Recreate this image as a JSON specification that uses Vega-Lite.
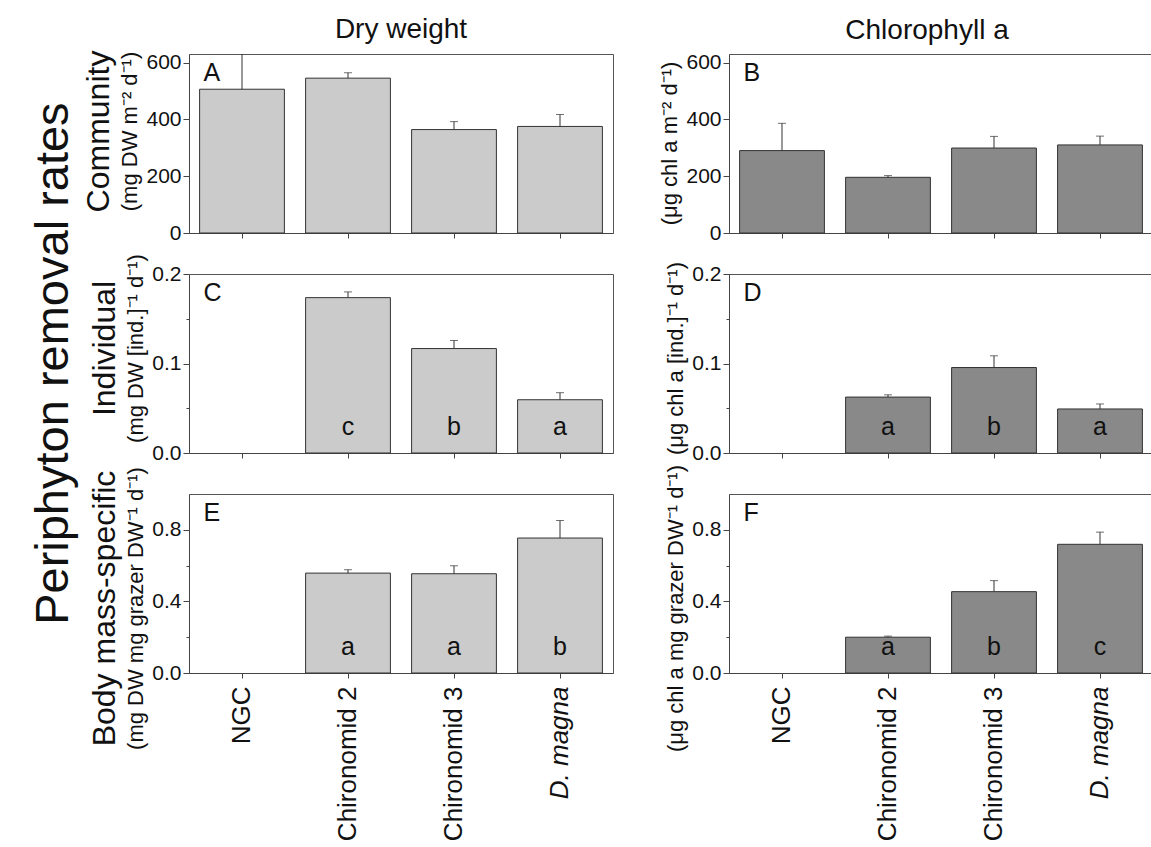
{
  "$schema": "https://vega.github.io/schema/vega-lite/v6.json",
  "padding": {"left": 30, "top": 16, "right": 0, "bottom": 0},
  "background": "white",
  "config": {
    "font": "Liberation Sans",
    "view": {"stroke": "#555555", "strokeWidth": 1},
    "axis": {"labelFont": "Liberation Sans", "labelFontSize": 21, "labelColor": "#111111", "domainColor": "#444444", "tickColor": "#444444", "grid": false, "title": null},
    "title": {"font": "Liberation Sans", "fontWeight": "normal", "color": "#111111", "subtitleFont": "Liberation Sans", "subtitleColor": "#111111"}
  },
  "datasets": {
    "bars": [
      {"panel": "A", "group": "NGC", "mean": 506, "upper": 640, "sig": null},
      {"panel": "A", "group": "Chironomid 2", "mean": 545, "upper": 564, "sig": null},
      {"panel": "A", "group": "Chironomid 3", "mean": 364, "upper": 392, "sig": null},
      {"panel": "A", "group": "D. magna", "mean": 375, "upper": 417, "sig": null},
      {"panel": "B", "group": "NGC", "mean": 290, "upper": 386, "sig": null},
      {"panel": "B", "group": "Chironomid 2", "mean": 196, "upper": 202, "sig": null},
      {"panel": "B", "group": "Chironomid 3", "mean": 299, "upper": 340, "sig": null},
      {"panel": "B", "group": "D. magna", "mean": 310, "upper": 341, "sig": null},
      {"panel": "C", "group": "Chironomid 2", "mean": 0.1736, "upper": 0.180, "sig": "c"},
      {"panel": "C", "group": "Chironomid 3", "mean": 0.1167, "upper": 0.1257, "sig": "b"},
      {"panel": "C", "group": "D. magna", "mean": 0.0595, "upper": 0.0674, "sig": "a"},
      {"panel": "D", "group": "Chironomid 2", "mean": 0.0625, "upper": 0.065, "sig": "a"},
      {"panel": "D", "group": "Chironomid 3", "mean": 0.0955, "upper": 0.1086, "sig": "b"},
      {"panel": "D", "group": "D. magna", "mean": 0.0492, "upper": 0.0548, "sig": "a"},
      {"panel": "E", "group": "Chironomid 2", "mean": 0.558, "upper": 0.577, "sig": "a"},
      {"panel": "E", "group": "Chironomid 3", "mean": 0.5545, "upper": 0.599, "sig": "a"},
      {"panel": "E", "group": "D. magna", "mean": 0.754, "upper": 0.852, "sig": "b"},
      {"panel": "F", "group": "Chironomid 2", "mean": 0.200, "upper": 0.206, "sig": "a"},
      {"panel": "F", "group": "Chironomid 3", "mean": 0.4545, "upper": 0.516, "sig": "b"},
      {"panel": "F", "group": "D. magna", "mean": 0.719, "upper": 0.787, "sig": "c"}
    ],
    "panels": [
      {"panel": "A"}, {"panel": "B"}, {"panel": "C"}, {"panel": "D"}, {"panel": "E"}, {"panel": "F"}
    ]
  },
  "title": {"text": "Periphyton removal rates", "orient": "left", "anchor": "middle", "frame": "bounds", "fontSize": 47, "offset": 4, "dx": 65},
  "spacing": 44,
  "hconcat": [
    {
      "title": {"text": "Dry weight", "anchor": "middle", "frame": "group", "fontSize": 28, "offset": 6, "dx": 212},
      "spacing": 41,
      "bounds": "flush",
      "vconcat": [
        {
          "width": 424, "height": 179,
          "title": {"text": "Community", "subtitle": "(mg DW m⁻² d⁻¹)", "orient": "left", "anchor": "middle", "frame": "group", "fontSize": 32, "subtitleFontSize": 22, "subtitlePadding": 4, "offset": 4, "dx": 12},
          "data": {"name": "bars"},
          "transform": [{"filter": "datum.panel === 'A'"}],
          "encoding": {
            "x": {"field": "group", "type": "nominal", "sort": null, "scale": {"domain": ["NGC", "Chironomid 2", "Chironomid 3", "D. magna"], "paddingInner": 0.2, "paddingOuter": 0.1}, "axis": {"labels": false, "tickSize": 5, "title": null}}
          },
          "layer": [
            {"mark": {"type": "bar", "fill": "#cbcbcb", "stroke": "#333333", "strokeWidth": 1},
             "encoding": {"y": {"field": "mean", "type": "quantitative", "scale": {"domain": [0, 630], "nice": false, "zero": true},
               "axis": {"values": [0, 100, 200, 300, 400, 500, 600], "labelExpr": "datum.value % 200 === 0 ? datum.label : ''", "tickSize": {"condition": {"test": "datum.value % 200 === 0", "value": 6}, "value": 3}}}}},
            {"mark": {"type": "rule", "color": "#333333", "clip": true}, "encoding": {"y": {"field": "mean", "type": "quantitative"}, "y2": {"field": "upper"}}},
            {"mark": {"type": "tick", "color": "#333333", "size": 8, "thickness": 1, "clip": true, "orient": "horizontal"}, "encoding": {"y": {"field": "upper", "type": "quantitative"}}},
            {"data": {"name": "panels"}, "transform": [{"filter": "datum.panel === 'A'"}],
             "mark": {"type": "text", "align": "left", "baseline": "top", "fontSize": 25, "dx": 4, "dy": 7, "color": "#111111"},
             "encoding": {"x": {"datum": "NGC", "bandPosition": 0}, "y": {"datum": 630, "type": "quantitative"}, "text": {"field": "panel"}}}
          ]
        },
        {
          "width": 424, "height": 179,
          "title": {"text": "Individual", "subtitle": "(mg DW [ind.]⁻¹ d⁻¹)", "orient": "left", "anchor": "middle", "frame": "group", "fontSize": 32, "subtitleFontSize": 22, "subtitlePadding": 4, "offset": 4, "dx": 15},
          "data": {"name": "bars"},
          "transform": [{"filter": "datum.panel === 'C'"}],
          "encoding": {
            "x": {"field": "group", "type": "nominal", "sort": null, "scale": {"domain": ["NGC", "Chironomid 2", "Chironomid 3", "D. magna"], "paddingInner": 0.2, "paddingOuter": 0.1}, "axis": {"labels": false, "tickSize": 5, "title": null}}
          },
          "layer": [
            {"mark": {"type": "bar", "fill": "#cbcbcb", "stroke": "#333333", "strokeWidth": 1},
             "encoding": {"y": {"field": "mean", "type": "quantitative", "scale": {"domain": [0, 0.2], "nice": false, "zero": true},
               "axis": {"values": [0, 0.05, 0.1, 0.15, 0.2], "labelExpr": "round(datum.value * 100) % 10 === 0 ? format(datum.value, '.1f') : ''", "tickSize": {"condition": {"test": "round(datum.value * 100) % 10 === 0", "value": 6}, "value": 3}}}}},
            {"mark": {"type": "rule", "color": "#333333", "clip": true}, "encoding": {"y": {"field": "mean", "type": "quantitative"}, "y2": {"field": "upper"}}},
            {"mark": {"type": "tick", "color": "#333333", "size": 8, "thickness": 1, "clip": true, "orient": "horizontal"}, "encoding": {"y": {"field": "upper", "type": "quantitative"}}},
            {"mark": {"type": "text", "fontSize": 25, "baseline": "alphabetic", "dy": -18, "color": "#111111"}, "encoding": {"y": {"datum": 0, "type": "quantitative"}, "text": {"field": "sig"}}},
            {"data": {"name": "panels"}, "transform": [{"filter": "datum.panel === 'C'"}],
             "mark": {"type": "text", "align": "left", "baseline": "top", "fontSize": 25, "dx": 4, "dy": 7, "color": "#111111"},
             "encoding": {"x": {"datum": "NGC", "bandPosition": 0}, "y": {"datum": 0.2, "type": "quantitative"}, "text": {"field": "panel"}}}
          ]
        },
        {
          "width": 424, "height": 179,
          "title": {"text": "Body mass-specific", "subtitle": "(mg DW mg grazer DW⁻¹ d⁻¹)", "orient": "left", "anchor": "middle", "frame": "group", "fontSize": 32, "subtitleFontSize": 22, "subtitlePadding": 4, "offset": 4, "dx": -25},
          "data": {"name": "bars"},
          "transform": [{"filter": "datum.panel === 'E'"}],
          "encoding": {
            "x": {"field": "group", "type": "nominal", "sort": null, "scale": {"domain": ["NGC", "Chironomid 2", "Chironomid 3", "D. magna"], "paddingInner": 0.2, "paddingOuter": 0.1},
              "axis": {"labels": true, "tickSize": 5, "title": null, "labelAngle": -90, "labelAlign": "right", "labelBaseline": "middle", "labelFontSize": 26, "labelPadding": 8,
                "labelFontStyle": {"condition": {"test": "datum.value === 'D. magna'", "value": "italic"}, "value": "normal"}}}
          },
          "layer": [
            {"mark": {"type": "bar", "fill": "#cbcbcb", "stroke": "#333333", "strokeWidth": 1},
             "encoding": {"y": {"field": "mean", "type": "quantitative", "scale": {"domain": [0, 1.0], "nice": false, "zero": true},
               "axis": {"values": [0, 0.2, 0.4, 0.6, 0.8], "labelExpr": "round(datum.value * 10) % 4 === 0 ? format(datum.value, '.1f') : ''", "tickSize": {"condition": {"test": "round(datum.value * 10) % 4 === 0", "value": 6}, "value": 3}}}}},
            {"mark": {"type": "rule", "color": "#333333", "clip": true}, "encoding": {"y": {"field": "mean", "type": "quantitative"}, "y2": {"field": "upper"}}},
            {"mark": {"type": "tick", "color": "#333333", "size": 8, "thickness": 1, "clip": true, "orient": "horizontal"}, "encoding": {"y": {"field": "upper", "type": "quantitative"}}},
            {"mark": {"type": "text", "fontSize": 25, "baseline": "alphabetic", "dy": -18, "color": "#111111"}, "encoding": {"y": {"datum": 0, "type": "quantitative"}, "text": {"field": "sig"}}},
            {"data": {"name": "panels"}, "transform": [{"filter": "datum.panel === 'E'"}],
             "mark": {"type": "text", "align": "left", "baseline": "top", "fontSize": 25, "dx": 4, "dy": 7, "color": "#111111"},
             "encoding": {"x": {"datum": "NGC", "bandPosition": 0}, "y": {"datum": 1.0, "type": "quantitative"}, "text": {"field": "panel"}}}
          ]
        }
      ]
    },
    {
      "title": {"text": "Chlorophyll a", "anchor": "middle", "frame": "group", "fontSize": 28, "offset": 6, "dx": 198},
      "spacing": 41,
      "bounds": "flush",
      "vconcat": [
        {
          "width": 424, "height": 179,
          "title": {"text": "(μg chl a m⁻² d⁻¹)", "orient": "left", "anchor": "middle", "frame": "group", "fontSize": 22, "offset": 4},
          "data": {"name": "bars"},
          "transform": [{"filter": "datum.panel === 'B'"}],
          "encoding": {
            "x": {"field": "group", "type": "nominal", "sort": null, "scale": {"domain": ["NGC", "Chironomid 2", "Chironomid 3", "D. magna"], "paddingInner": 0.2, "paddingOuter": 0.1}, "axis": {"labels": false, "tickSize": 5, "title": null}}
          },
          "layer": [
            {"mark": {"type": "bar", "fill": "#898989", "stroke": "#333333", "strokeWidth": 1},
             "encoding": {"y": {"field": "mean", "type": "quantitative", "scale": {"domain": [0, 630], "nice": false, "zero": true},
               "axis": {"values": [0, 100, 200, 300, 400, 500, 600], "labelExpr": "datum.value % 200 === 0 ? datum.label : ''", "tickSize": {"condition": {"test": "datum.value % 200 === 0", "value": 6}, "value": 3}}}}},
            {"mark": {"type": "rule", "color": "#333333", "clip": true}, "encoding": {"y": {"field": "mean", "type": "quantitative"}, "y2": {"field": "upper"}}},
            {"mark": {"type": "tick", "color": "#333333", "size": 8, "thickness": 1, "clip": true, "orient": "horizontal"}, "encoding": {"y": {"field": "upper", "type": "quantitative"}}},
            {"data": {"name": "panels"}, "transform": [{"filter": "datum.panel === 'B'"}],
             "mark": {"type": "text", "align": "left", "baseline": "top", "fontSize": 25, "dx": 4, "dy": 7, "color": "#111111"},
             "encoding": {"x": {"datum": "NGC", "bandPosition": 0}, "y": {"datum": 630, "type": "quantitative"}, "text": {"field": "panel"}}}
          ]
        },
        {
          "width": 424, "height": 179,
          "title": {"text": "(μg chl a [ind.]⁻¹ d⁻¹)", "orient": "left", "anchor": "middle", "frame": "group", "fontSize": 22, "offset": 4, "dx": 5},
          "data": {"name": "bars"},
          "transform": [{"filter": "datum.panel === 'D'"}],
          "encoding": {
            "x": {"field": "group", "type": "nominal", "sort": null, "scale": {"domain": ["NGC", "Chironomid 2", "Chironomid 3", "D. magna"], "paddingInner": 0.2, "paddingOuter": 0.1}, "axis": {"labels": false, "tickSize": 5, "title": null}}
          },
          "layer": [
            {"mark": {"type": "bar", "fill": "#898989", "stroke": "#333333", "strokeWidth": 1},
             "encoding": {"y": {"field": "mean", "type": "quantitative", "scale": {"domain": [0, 0.2], "nice": false, "zero": true},
               "axis": {"values": [0, 0.05, 0.1, 0.15, 0.2], "labelExpr": "round(datum.value * 100) % 10 === 0 ? format(datum.value, '.1f') : ''", "tickSize": {"condition": {"test": "round(datum.value * 100) % 10 === 0", "value": 6}, "value": 3}}}}},
            {"mark": {"type": "rule", "color": "#333333", "clip": true}, "encoding": {"y": {"field": "mean", "type": "quantitative"}, "y2": {"field": "upper"}}},
            {"mark": {"type": "tick", "color": "#333333", "size": 8, "thickness": 1, "clip": true, "orient": "horizontal"}, "encoding": {"y": {"field": "upper", "type": "quantitative"}}},
            {"mark": {"type": "text", "fontSize": 25, "baseline": "alphabetic", "dy": -18, "color": "#111111"}, "encoding": {"y": {"datum": 0, "type": "quantitative"}, "text": {"field": "sig"}}},
            {"data": {"name": "panels"}, "transform": [{"filter": "datum.panel === 'D'"}],
             "mark": {"type": "text", "align": "left", "baseline": "top", "fontSize": 25, "dx": 4, "dy": 7, "color": "#111111"},
             "encoding": {"x": {"datum": "NGC", "bandPosition": 0}, "y": {"datum": 0.2, "type": "quantitative"}, "text": {"field": "panel"}}}
          ]
        },
        {
          "width": 424, "height": 179,
          "title": {"text": "(μg chl a mg grazer DW⁻¹ d⁻¹)", "orient": "left", "anchor": "middle", "frame": "group", "fontSize": 22, "offset": 4, "dx": -25},
          "data": {"name": "bars"},
          "transform": [{"filter": "datum.panel === 'F'"}],
          "encoding": {
            "x": {"field": "group", "type": "nominal", "sort": null, "scale": {"domain": ["NGC", "Chironomid 2", "Chironomid 3", "D. magna"], "paddingInner": 0.2, "paddingOuter": 0.1},
              "axis": {"labels": true, "tickSize": 5, "title": null, "labelAngle": -90, "labelAlign": "right", "labelBaseline": "middle", "labelFontSize": 26, "labelPadding": 8,
                "labelFontStyle": {"condition": {"test": "datum.value === 'D. magna'", "value": "italic"}, "value": "normal"}}}
          },
          "layer": [
            {"mark": {"type": "bar", "fill": "#898989", "stroke": "#333333", "strokeWidth": 1},
             "encoding": {"y": {"field": "mean", "type": "quantitative", "scale": {"domain": [0, 1.0], "nice": false, "zero": true},
               "axis": {"values": [0, 0.2, 0.4, 0.6, 0.8], "labelExpr": "round(datum.value * 10) % 4 === 0 ? format(datum.value, '.1f') : ''", "tickSize": {"condition": {"test": "round(datum.value * 10) % 4 === 0", "value": 6}, "value": 3}}}}},
            {"mark": {"type": "rule", "color": "#333333", "clip": true}, "encoding": {"y": {"field": "mean", "type": "quantitative"}, "y2": {"field": "upper"}}},
            {"mark": {"type": "tick", "color": "#333333", "size": 8, "thickness": 1, "clip": true, "orient": "horizontal"}, "encoding": {"y": {"field": "upper", "type": "quantitative"}}},
            {"mark": {"type": "text", "fontSize": 25, "baseline": "alphabetic", "dy": -18, "color": "#111111"}, "encoding": {"y": {"datum": 0, "type": "quantitative"}, "text": {"field": "sig"}}},
            {"data": {"name": "panels"}, "transform": [{"filter": "datum.panel === 'F'"}],
             "mark": {"type": "text", "align": "left", "baseline": "top", "fontSize": 25, "dx": 4, "dy": 7, "color": "#111111"},
             "encoding": {"x": {"datum": "NGC", "bandPosition": 0}, "y": {"datum": 1.0, "type": "quantitative"}, "text": {"field": "panel"}}}
          ]
        }
      ]
    }
  ]
}
